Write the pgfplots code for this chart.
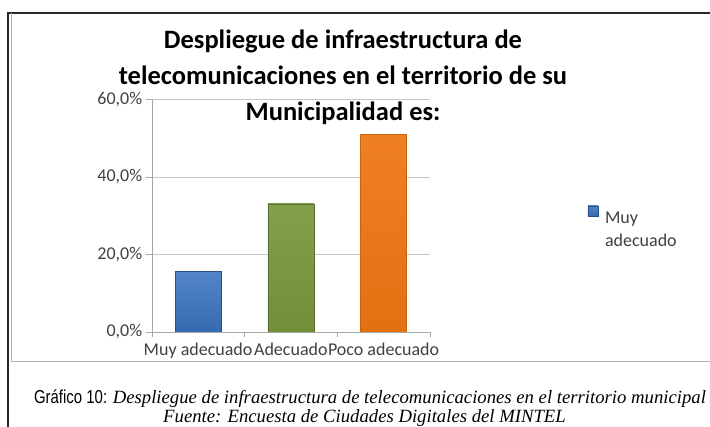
\documentclass[border=0pt]{standalone}
\usepackage{fontspec}
\setmainfont{Carlito}
\newfontfamily\capserif{Liberation Serif}
\newfontfamily\capsans[FakeStretch=0.8]{Liberation Sans}
\usepackage{pgfplots}
\pgfplotsset{compat=1.18}
\definecolor{barblue}{RGB}{58,116,192}
\definecolor{bargreen}{RGB}{120,152,60}
\definecolor{barorange}{RGB}{238,116,18}
\definecolor{txtgray}{RGB}{64,64,64}
\begin{document}
\begin{tikzpicture}[x=1pt,y=1pt]
\useasboundingbox (0,0) rectangle (710,426);
% outer frame
\draw[black!85, line width=1.8pt] (8,-5) -- (8,413.2) -- (715,413.2);
\draw[gray!60, line width=1.2pt] (11.7,412.5) -- (11.7,64.3) -- (715,64.3);
% title
\node[font=\bfseries\fontsize{26.5}{36}\selectfont, align=center, anchor=base] at (343,377) {Despliegue de infraestructura de};
\node[font=\bfseries\fontsize{26.5}{36}\selectfont, align=center, anchor=base] at (343,341) {telecomunicaciones en el territorio de su};
\node[font=\bfseries\fontsize{26.5}{36}\selectfont, align=center, anchor=base] at (343,305) {Municipalidad es:};
\begin{axis}[
  at={(151.7pt,94.3pt)}, anchor=south west,
  scale only axis, width=278.3pt, height=232.4pt,
  xmin=0.5, xmax=3.5, ymin=0, ymax=60,
  axis lines*=left,
  axis line style={gray!70},
  xtick={1,2,3},
  xticklabels={Muy adecuado,Adecuado,Poco adecuado},
  minor xtick={0.5,1.5,2.5,3.5},
  major x tick style={draw=none},
  minor x tick style={gray!70},
  ytick={0,20,40,60},
  yticklabels={{0,0\%},{20,0\%},{40,0\%},{60,0\%}},
  major y tick style={gray!70},
  tick align=outside,
  major tick length=6pt, minor tick length=5pt,
  ymajorgrids, grid style={gray!45},
  ticklabel style={font=\fontsize{18}{18}\selectfont, text=txtgray},
  xticklabel style={yshift=-2pt},
  legend style={at={(1.555,0.555)}, anchor=north west, draw=none, fill=none,
    font=\fontsize{18}{23}\selectfont, text=txtgray,
    /tikz/every odd column/.append style={column sep=5pt}},
  legend cell align=left,
  legend image code/.code={\fill[#1] (0pt,0pt) rectangle (10pt,10pt);},
]
\addplot[ybar, bar width=46pt, bar shift=0pt, top color=barblue!88!white, bottom color=barblue!92!black, draw=barblue!70!black] coordinates {(1,15.5)};
\addlegendentry{\begin{tabular}[t]{@{}l@{}}Muy\\adecuado\end{tabular}}
\addplot[ybar, bar width=46pt, bar shift=0pt, top color=bargreen!92!white, bottom color=bargreen!94!black, draw=bargreen!75!black, forget plot] coordinates {(2,33.0)};
\addplot[ybar, bar width=46pt, bar shift=0pt, top color=barorange!92!white, bottom color=barorange!96!black, draw=barorange!85!black, forget plot] coordinates {(3,50.9)};
\end{axis}
% caption
\node[anchor=base, font=\fontsize{18.7}{20}\selectfont] at (370,23) {{\capsans Gráfico 10:} {\capserif\itshape Despliegue de infraestructura de telecomunicaciones en el territorio municipal}};
\node[anchor=base, font=\capserif\itshape\fontsize{18.7}{20}\selectfont] at (364.5,3) {Fuente: Encuesta de Ciudades Digitales del MINTEL};
\end{tikzpicture}
\end{document}
